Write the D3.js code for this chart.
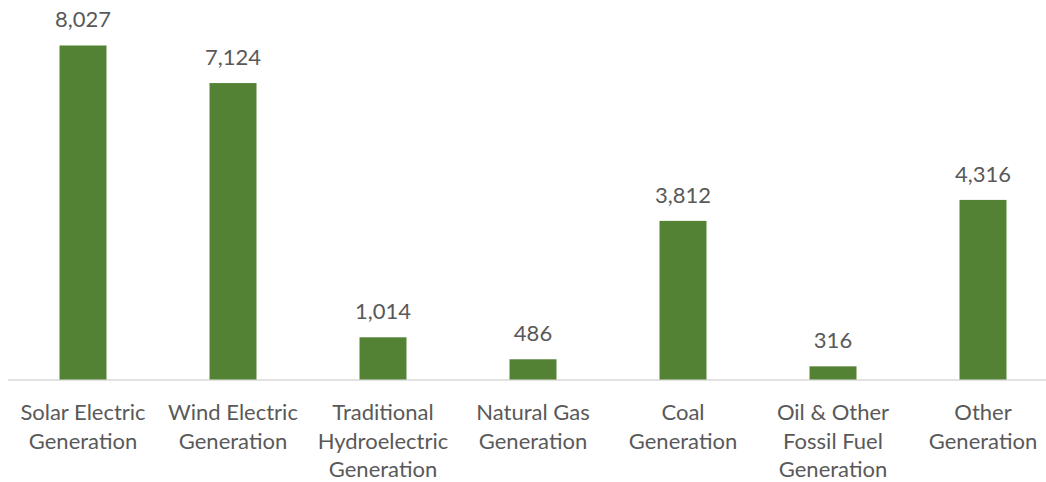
<!DOCTYPE html>
<html>
<head>
<meta charset="utf-8">
<script src="https://cdn.jsdelivr.net/npm/d3@7"></script>
<style>
  body { margin: 0; background: #fff; }
  text { font-family: Lato, "Open Sans", sans-serif; fill: #595959; }
</style>
</head>
<body>
<svg id="vis"></svg>
<script>
const categories = [
    ["Solar Electric", "Generation"],
    ["Wind Electric", "Generation"],
    ["Traditional", "Hydroelectric", "Generation"],
    ["Natural Gas", "Generation"],
    ["Coal", "Generation"],
    ["Oil & Other", "Fossil Fuel", "Generation"],
    ["Other", "Generation"]
];
const values = [8027, 7124, 1014, 486, 3812, 316, 4316];

const width = 1046;
const height = 482;
const baseline = 379.5;
const barWidth = 47;
const fontSize = 22;
const numberFormat = d3.format(",");

let svg = d3.select("#vis")
    .attr("width", width)
    .attr("height", height);

let x = d3.scaleBand()
    .domain(d3.range(categories.length))
    .range([8, 1058])
    .padding(0);

let y = d3.scaleLinear()
    .domain([0, 9000])
    .range([baseline, 5]);

// axis line
svg.append("line")
    .attr("x1", 8)
    .attr("x2", width)
    .attr("y1", baseline + 0.5)
    .attr("y2", baseline + 0.5)
    .attr("stroke", "#d9d9d9")
    .attr("stroke-width", 1.5);

let bars = svg.append("g");

bars.selectAll("rect")
    .data(values)
    .enter()
    .append("rect")
    .attr("x", (d, i) => x(i) + (x.bandwidth() - barWidth) / 2)
    .attr("width", barWidth)
    .attr("y", d => y(d))
    .attr("height", d => baseline - y(d))
    .attr("fill", "#548235");

// value labels
svg.append("g")
    .selectAll("text")
    .data(values)
    .enter()
    .append("text")
    .attr("x", (d, i) => x(i) + x.bandwidth() / 2)
    .attr("y", d => y(d) - 18)
    .attr("text-anchor", "middle")
    .style("font-size", fontSize + "px")
    .text(d => numberFormat(d));

// category labels, one tspan per line
let labels = svg.append("g")
    .selectAll("text")
    .data(categories)
    .enter()
    .append("text")
    .attr("text-anchor", "middle")
    .attr("y", 420)
    .style("font-size", fontSize + "px");

labels.selectAll("tspan")
    .data((d, i) => d.map(line => ({line: line, i: i})))
    .enter()
    .append("tspan")
    .attr("x", d => x(d.i) + x.bandwidth() / 2)
    .attr("dy", (d, j) => j === 0 ? 0 : 28.5)
    .text(d => d.line);
</script>
</body>
</html>
